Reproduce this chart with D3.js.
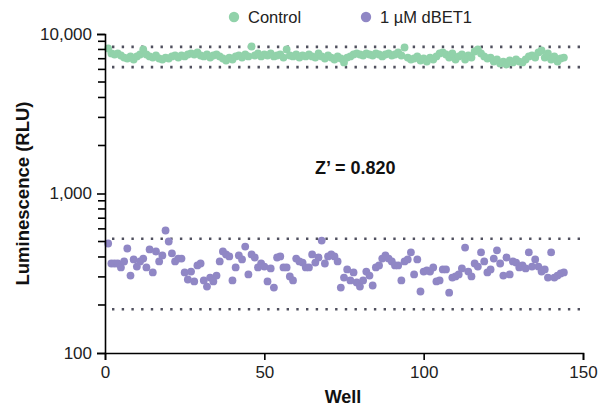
<!DOCTYPE html>
<html>
<head>
<meta charset="utf-8">
<script src="https://cdn.jsdelivr.net/npm/d3@7"></script>
<style>
  body { margin: 0; background: #fff; }
  svg { display: block; font-family: "Liberation Sans", Arial, sans-serif; }
</style>
</head>
<body>
<svg id="chart" width="613" height="408"></svg>
<script>
// Valores (RLU por pocillo, pocillos 1..144)
const controlRLU = [
  8110, 7550, 7440, 7550, 7330, 7120, 7020, 7230, 6920, 7230,
  7440, 8000, 7440, 7230, 7120, 7330, 7020, 6920, 7120, 7020,
  7230, 7330, 7120, 7330, 7230, 7440, 7550, 7440, 7660, 7330,
  7230, 7440, 7120, 7330, 7440, 7230, 7020, 6820, 7120, 6920,
  7230, 7330, 7120, 7440, 7230, 8350, 7330, 7550, 7230, 7440,
  7330, 7550, 7230, 7330, 7440, 7120, 8000, 7330, 7230, 7440,
  7120, 7330, 7230, 7440, 7230, 7120, 7550, 7230, 7020, 7330,
  7120, 6920, 7230, 7020, 6630, 7120, 7230, 7440, 7550, 7440,
  7330, 7550, 7440, 7330, 7550, 7440, 7230, 7440, 7550, 7330,
  7440, 7660, 7330, 8230, 7120, 6920, 7020, 7230, 6820, 7020,
  6720, 7120, 6920, 7230, 7550, 7660, 7440, 7120, 7550, 6920,
  7230, 7440, 6920, 7330, 7120, 7770, 8000, 7550, 7230, 7020,
  7120, 6720, 6920, 6530, 6720, 6440, 6820, 6630, 6920, 6720,
  6630, 6920, 7230, 7330, 7120, 7660, 7880, 7120, 7550, 6920,
  7230, 6720, 7020, 7120
];

const dbetRLU = [
  486, 364, 364, 364, 344, 375, 452, 306, 386, 348,
  375, 391, 344, 446, 320, 433, 375, 409, 586, 500,
  421, 375, 391, 391, 320, 289, 324, 281, 354, 364,
  285, 261, 297, 281, 306, 375, 433, 415, 403, 285,
  344, 409, 386, 465, 311, 415, 397, 344, 364, 348,
  281, 339, 257, 397, 403, 344, 344, 302, 285, 391,
  375, 369, 344, 344, 415, 369, 397, 507, 364, 403,
  415, 403, 375, 257, 297, 334, 285, 320, 277, 261,
  285, 324, 306, 265, 344, 354, 391, 409, 391, 375,
  354, 354, 285, 375, 386, 427, 311, 386, 243, 324,
  329, 324, 344, 281, 285, 334, 334, 239, 297, 302,
  311, 339, 458, 324, 302, 364, 348, 427, 375, 320,
  334, 391, 440, 364, 306, 397, 311, 375, 369, 344,
  354, 339, 427, 348, 386, 348, 324, 334, 297, 427,
  297, 306, 315, 320
];

// Limites (lineas punteadas)
const controlLimits = [8300, 6200];
const dbetLimits = [520, 188];

const seriesNames = ["Control", "1 µM dBET1"];
const seriesColors = ["#91d2aa", "#9087c5"];

const xTicks = [0, 50, 100, 150];
const yMajor = [100, 1000, 10000];
const zPrime = "Z’ = 0.820";

const svg = d3.select("#chart");

const x = d3.scaleLinear().domain([0, 150]).range([105, 583]);
const y = d3.scaleLog().domain([100, 10000]).range([353, 34]);

// Ticks menores del eje log
const yMinor = [];
[100, 1000].forEach(b => {
  for (let k = 2; k <= 9; k++) yMinor.push(b * k);
});

// Lineas punteadas de limites
const limitLines = controlLimits.concat(dbetLimits);
svg.append("g")
  .selectAll("line")
  .data(limitLines)
  .join("line")
  .attr("x1", x(0) + 7)
  .attr("x2", x(150))
  .attr("y1", d => y(d))
  .attr("y2", d => y(d))
  .attr("stroke", "#50505e")
  .attr("stroke-width", 2.6)
  .attr("stroke-dasharray", "2.4,7.3");

// Puntos
const series = [controlRLU, dbetRLU];
series.forEach((vals, i) => {
  svg.append("g")
    .selectAll("circle")
    .data(vals)
    .join("circle")
    .attr("cx", (d, j) => x(j + 1))
    .attr("cy", d => y(d))
    .attr("r", 3.9)
    .attr("fill", seriesColors[i]);
});

// Eje Y
const yAxis = d3.axisLeft(y)
  .tickValues(yMajor)
  .tickFormat(d3.format(","))
  .tickSize(8)
  .tickPadding(5);

svg.append("g")
  .attr("transform", `translate(${x(0)},0)`)
  .call(yAxis)
  .call(g => g.select(".domain").attr("stroke", "#000").attr("stroke-width", 1.6))
  .call(g => g.selectAll(".tick line").attr("stroke", "#000").attr("stroke-width", 1.6))
  .call(g => g.selectAll(".tick text").attr("fill", "#222").style("font-size", "17px"));

svg.append("g")
  .selectAll("line")
  .data(yMinor)
  .join("line")
  .attr("x1", x(0) - 7)
  .attr("x2", x(0))
  .attr("y1", d => y(d))
  .attr("y2", d => y(d))
  .attr("stroke", "#000")
  .attr("stroke-width", 1.6);

// Eje X
const xAxis = d3.axisBottom(x)
  .tickValues(xTicks)
  .tickSize(7)
  .tickPadding(6);

svg.append("g")
  .attr("transform", `translate(0,${y(100)})`)
  .call(xAxis)
  .call(g => g.select(".domain").attr("stroke", "#000").attr("stroke-width", 1.6))
  .call(g => g.selectAll(".tick line").attr("stroke", "#000").attr("stroke-width", 1.6))
  .call(g => g.selectAll(".tick text").attr("fill", "#222").style("font-size", "17px"));

// Titulos de ejes
svg.append("text")
  .attr("x", 343)
  .attr("y", 403)
  .attr("text-anchor", "middle")
  .style("font-size", "18px")
  .style("font-weight", "bold")
  .attr("fill", "#111")
  .text("Well");

svg.append("text")
  .attr("transform", `translate(29,${y(1000)}) rotate(-90)`)
  .attr("text-anchor", "middle")
  .style("font-size", "18.5px")
  .style("font-weight", "bold")
  .attr("fill", "#111")
  .text("Luminescence (RLU)");

// Z'
svg.append("text")
  .attr("x", 315)
  .attr("y", 174)
  .style("font-size", "18px")
  .style("font-weight", "bold")
  .attr("fill", "#111")
  .text(zPrime);

// Leyenda
const legendX = [234, 366];
const legend = svg.append("g");
seriesNames.forEach((name, i) => {
  legend.append("circle")
    .attr("cx", legendX[i])
    .attr("cy", 17)
    .attr("r", 5.2)
    .attr("fill", seriesColors[i]);
  legend.append("text")
    .attr("x", legendX[i] + 14)
    .attr("y", 23)
    .style("font-size", "16.5px")
    .attr("fill", "#222")
    .text(name);
});
</script>
</body>
</html>
